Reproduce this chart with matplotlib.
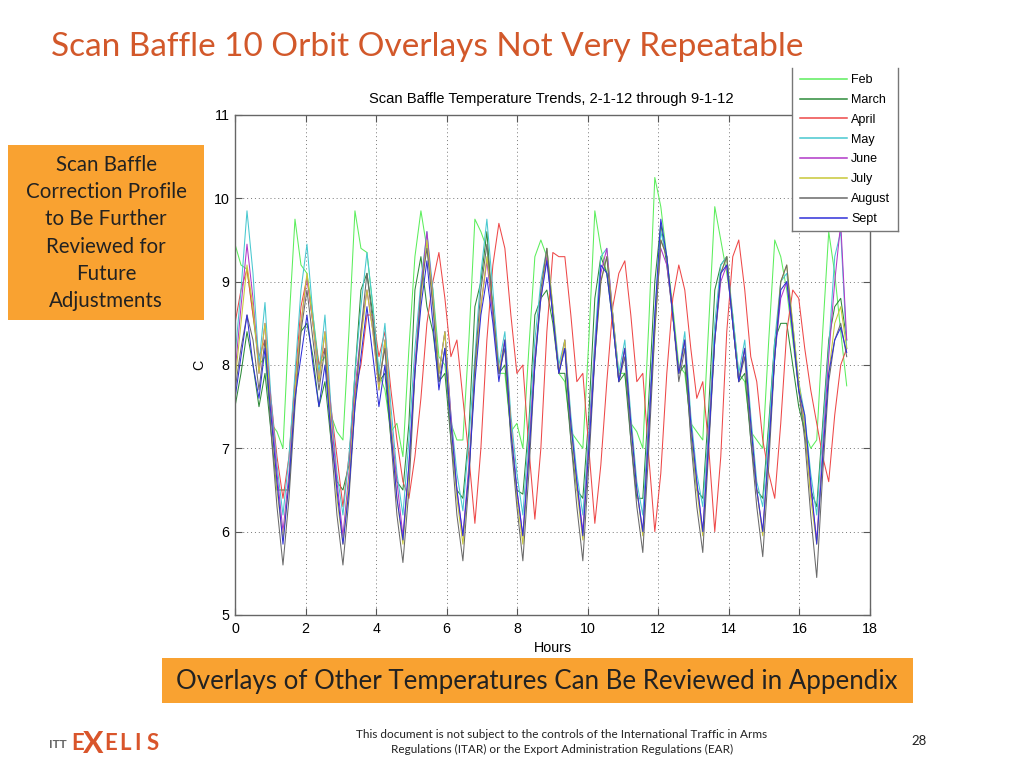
import matplotlib
matplotlib.use('Agg')
import matplotlib.pyplot as plt
from matplotlib.lines import Line2D
from matplotlib.patches import Rectangle

# sample times, hours
hours = [0.00,0.17,0.34,0.51,0.68,0.85,1.02,1.19,1.36,1.53,1.70,1.87,2.04,2.21,2.38,2.55,2.72,2.89,
         3.06,3.23,3.40,3.57,3.74,3.91,4.08,4.25,4.42,4.59,4.76,4.93,5.10,5.27,5.44,5.61,5.78,5.95,
         6.12,6.29,6.46,6.63,6.80,6.97,7.14,7.31,7.48,7.65,7.82,7.99,8.16,8.33,8.50,8.67,8.84,9.01,
         9.18,9.35,9.52,9.69,9.86,10.03,10.20,10.37,10.54,10.71,10.88,11.05,11.22,11.39,11.56,11.73,
         11.90,12.07,12.24,12.41,12.58,12.75,12.92,13.09,13.26,13.43,13.60,13.77,13.94,14.11,14.28,
         14.45,14.62,14.79,14.96,15.13,15.30,15.47,15.64,15.81,15.98,16.15,16.32,16.49,16.66,16.83,
         17.00,17.17,17.34]

feb = [9.45,9.2,9.15,8.6,8.0,8.1,7.3,7.2,
       7.0,8.5,9.75,9.2,9.1,8.6,8.0,8.1,7.4,7.2,
       7.1,8.4,9.85,9.4,9.35,8.7,7.9,7.7,7.2,7.3,
       6.9,8.2,9.3,9.85,9.4,8.9,8.1,8.0,7.3,7.1,
       7.1,8.3,9.75,9.6,9.4,8.7,7.9,7.9,7.2,7.3,
       7.0,8.2,9.3,9.5,9.3,8.6,7.9,7.8,7.2,7.1,
       7.0,8.3,9.85,9.4,9.1,8.6,7.9,7.9,7.3,7.2,
       7.0,8.5,10.25,9.9,9.3,8.7,8.0,7.9,7.3,7.2,
       7.1,8.5,9.9,9.5,9.1,8.6,7.9,7.8,7.2,7.1,
       7.0,8.3,9.5,9.3,8.9,8.3,7.7,7.2,7.0,
       7.1,8.4,9.6,9.1,8.4,7.75]
march = [7.5,7.9,8.4,8.0,7.5,7.9,7.2,6.5,
         6.5,6.5,7.7,8.4,8.5,8.1,7.5,7.8,7.1,6.6,
         6.5,6.8,7.9,8.9,9.1,8.6,7.8,7.9,7.1,6.6,
         6.5,7.3,8.9,9.3,8.7,8.4,7.8,7.9,7.1,6.5,
         6.4,7.2,8.7,9.0,9.6,8.6,7.9,8.0,7.2,6.5,
         6.45,7.3,8.6,8.8,8.9,8.5,7.9,7.9,7.1,6.5,
         6.4,7.4,8.8,9.3,9.1,8.5,7.8,7.9,7.1,6.4,
         6.4,7.6,9.0,9.7,9.2,8.6,7.9,8.0,7.2,6.5,
         6.4,7.5,8.9,9.2,9.3,8.5,7.8,7.9,7.1,6.5,
         6.4,7.3,8.3,8.5,8.5,8.0,7.5,7.2,6.5,
         6.3,7.3,8.3,8.7,8.8,8.3]
april = [8.5,8.9,9.15,8.6,8.1,8.3,7.6,6.9,
         6.4,6.9,7.8,8.7,9.05,8.5,8.0,8.2,7.5,6.9,
         6.3,6.9,7.7,8.0,8.6,8.6,8.1,8.4,7.7,7.1,
         6.6,6.4,6.9,7.6,8.5,9.0,9.35,8.8,8.1,8.3,
         7.6,6.9,6.1,7.0,8.3,9.2,9.7,9.4,8.6,7.9,
         8.0,7.0,6.15,7.0,8.4,9.35,9.3,9.3,8.6,7.8,
         7.9,7.0,6.1,6.8,7.8,8.7,9.1,9.25,8.6,7.8,
         7.9,6.9,6.0,6.7,7.9,8.8,9.2,8.9,8.2,7.6,
         7.8,7.0,6.0,6.9,8.4,9.3,9.5,8.9,8.1,7.8,
         7.1,6.7,6.4,7.3,8.4,8.9,8.8,8.2,7.7,
         7.3,6.9,6.6,7.4,8.0,8.2]
may = [8.1,8.9,9.85,9.1,8.0,8.75,7.6,6.8,
       6.2,6.9,7.9,8.9,9.45,8.6,7.9,8.6,7.5,6.7,
       6.2,6.9,7.9,8.7,9.35,8.7,7.9,8.5,7.5,6.7,
       6.2,7.1,8.2,9.0,9.6,8.9,7.9,8.4,7.4,6.7,
       6.25,7.1,8.1,9.1,9.75,8.9,8.0,8.4,7.4,6.7,
       6.2,7.2,8.3,9.0,9.4,8.7,8.0,8.3,7.4,6.7,
       6.2,7.2,8.3,9.3,9.4,8.6,7.9,8.3,7.4,6.6,
       6.2,7.4,8.6,9.6,9.3,8.6,7.9,8.4,7.4,6.7,
       6.3,7.3,8.5,9.2,9.3,8.6,7.9,8.3,7.4,6.6,
       6.3,7.2,8.3,9.0,9.1,8.5,7.8,7.4,6.7,
       6.2,7.2,8.2,9.3,9.6,8.2]
june = [7.9,8.7,9.45,8.8,7.9,8.5,7.5,6.7,
        6.0,6.7,7.7,8.5,9.05,8.5,7.8,8.4,7.4,6.6,
        5.95,6.7,7.7,8.4,8.9,8.4,7.7,8.3,7.3,6.6,
        5.95,6.8,8.0,8.9,9.6,8.8,7.9,8.4,7.4,6.5,
        5.95,6.8,7.9,8.7,9.25,8.6,7.9,8.3,7.3,6.5,
        5.95,7.0,8.1,8.8,9.3,8.6,7.9,8.3,7.3,6.6,
        6.0,7.1,8.2,9.1,9.4,8.6,7.8,8.2,7.3,6.5,
        6.0,7.3,8.5,9.4,9.2,8.6,7.9,8.3,7.3,6.6,
        6.0,7.2,8.3,9.0,9.2,8.5,7.8,8.2,7.3,6.5,
        6.0,7.0,8.1,8.8,9.0,8.4,7.7,7.3,6.5,
        5.9,7.0,8.1,9.0,9.7,8.3]
july = [7.8,8.5,9.2,8.7,7.9,8.5,7.4,6.5,
        5.9,6.6,7.7,8.5,9.1,8.5,7.8,8.4,7.3,6.4,
        5.85,6.6,7.6,8.3,8.9,8.4,7.7,8.3,7.3,6.4,
        5.85,6.7,7.9,8.8,9.5,8.8,7.9,8.4,7.3,6.4,
        5.85,6.7,7.9,8.7,9.3,8.7,7.9,8.3,7.3,6.4,
        5.85,6.9,8.0,8.8,9.4,8.7,7.9,8.3,7.3,6.5,
        5.9,7.0,8.1,9.0,9.3,8.6,7.8,8.2,7.3,6.5,
        5.95,7.2,8.4,9.5,9.3,8.6,7.9,8.3,7.3,6.5,
        5.95,7.1,8.3,9.1,9.3,8.5,7.8,8.2,7.3,6.5,
        5.95,7.0,8.1,9.0,9.2,8.5,7.8,7.3,6.4,
        5.85,6.9,7.9,8.5,8.7,8.2]
august = [7.7,8.2,8.6,8.3,7.7,8.3,7.2,6.3,
          5.6,6.4,7.5,8.4,8.9,8.3,7.7,8.2,7.1,6.2,
          5.6,6.4,7.5,8.4,9.1,8.5,7.8,8.2,7.1,6.2,
          5.63,6.5,7.9,8.9,9.4,8.7,7.8,8.2,7.1,6.2,
          5.65,6.6,8.0,8.9,9.45,8.7,7.9,8.2,7.1,6.3,
          5.65,6.7,8.0,8.9,9.4,8.6,7.9,8.2,7.1,6.3,
          5.65,6.8,8.1,9.0,9.3,8.5,7.8,8.1,7.1,6.3,
          5.75,7.0,8.4,9.5,9.3,8.6,7.8,8.2,7.1,6.3,
          5.75,7.0,8.3,9.1,9.3,8.5,7.8,8.1,7.1,6.3,
          5.7,6.8,8.1,9.0,9.2,8.4,7.7,7.1,6.2,
          5.45,6.7,7.8,8.3,8.5,8.1]
sept = [7.6,8.1,8.6,8.0,7.6,8.2,7.4,6.6,
        5.85,6.6,7.6,8.1,8.6,8.0,7.5,8.0,7.2,6.5,
        5.85,6.5,7.5,8.1,8.7,8.1,7.5,8.0,7.2,6.4,
        5.9,6.8,7.9,8.7,9.25,8.5,7.7,8.2,7.3,6.5,
        5.95,6.7,7.8,8.6,9.05,8.5,7.8,8.3,7.2,6.5,
        5.95,6.9,8.0,8.8,9.25,8.6,7.9,8.2,7.3,6.6,
        5.95,7.0,8.1,9.2,9.1,8.5,7.8,8.2,7.3,6.5,
        6.0,7.2,8.6,9.75,9.3,8.6,7.9,8.3,7.3,6.6,
        6.0,7.1,8.3,9.1,9.2,8.5,7.8,8.2,7.3,6.5,
        6.0,7.0,8.1,8.9,9.0,8.4,7.7,7.4,6.6,
        5.85,6.9,7.9,8.3,8.45,8.15]

series_names = ['Feb','March','April','May','June','July','August','Sept']
series_vals = [feb,march,april,may,june,july,august,sept]
series_cols = ['#5cee5c','#2e8b3a','#ee4848','#48c8d0','#b038c8','#c8c838','#6a6a6a','#3030d8']

logo_letters = ['E','X','E','L','I','S']

W, H = 1024, 768
TXT = ['Lato','DejaVu Sans']
ORANGE = '#d2582a'

plt.rcParams['font.family'] = ['Liberation Sans','DejaVu Sans']
fig = plt.figure(figsize=(W/100, H/100), dpi=100)

def fx(x): return x/W
def fy(y): return 1 - y/H

ax = fig.add_axes([fx(235), fy(615), fx(870-235), (615-115)/H])
for name, vals, col in zip(series_names, series_vals, series_cols):
    ax.plot(hours, vals, color=col, lw=0.75, label=name)

ax.set_xlim(0, 18)
ax.set_ylim(5, 11)
ax.set_xticks(range(0, 19, 2))
ax.set_yticks(range(5, 12))
ax.grid(True, color='#777777', ls=(0, (1, 3)), lw=0.7)
ax.tick_params(direction='in', length=5, width=0.8, color='#555555', labelsize=10.3, pad=5,
               top=True, right=True)
ax.tick_params(axis='y', pad=4)
for s in ax.spines.values():
    s.set_color('#666666')
    s.set_linewidth(1.0)
ax.set_xlabel('Hours', fontsize=10.3, labelpad=4)
ax.set_ylabel('C', fontsize=10.3, labelpad=5)
fig.text(fx(551), fy(99), 'Scan Baffle Temperature Trends, 2-1-12 through 9-1-12', fontsize=10.6,
         ha='center', va='center')

# legend box runs off the top of the slide image
ax.add_patch(Rectangle((fx(792), fy(231)), 106/W, (231-68)/H, transform=fig.transFigure,
                       fc='white', ec='none', zorder=4, clip_on=False))
for xs, ys in [([792, 792], [68, 231]), ([792, 898], [231, 231]), ([898, 898], [68, 231])]:
    ax.add_line(Line2D([fx(v) for v in xs], [fy(v) for v in ys], transform=fig.transFigure,
                       color='#777777', lw=1.0, zorder=4.5, clip_on=False))
leg = ax.legend(loc='upper left', bbox_to_anchor=(fx(800), fy(74)), bbox_transform=fig.transFigure,
                frameon=False, fontsize=9, handlelength=3.75, handletextpad=0.35,
                labelspacing=0.63, borderpad=0, borderaxespad=0)
for ln in leg.get_lines():
    ln.set_linewidth(1.1)

# slide furniture
fig.text(fx(51), fy(47), 'Scan Baffle 10 Orbit Overlays Not Very Repeatable', color=ORANGE,
         fontsize=24, family=TXT, ha='left', va='center')
fig.add_artist(Rectangle((fx(8), fy(320)), 196/W, 175/H, transform=fig.transFigure,
                         fc='#f9a231', ec='none'))
fig.text(fx(106), fy(233), 'Scan Baffle\nCorrection Profile\nto Be Further\nReviewed for\nFuture\nAdjustments',
         fontsize=14.8, family=TXT, ha='center', va='center', linespacing=1.46, color='#222222')
fig.add_artist(Rectangle((fx(162), fy(703)), 751/W, 45/H, transform=fig.transFigure,
                         fc='#f9a231', ec='none'))
fig.text(fx(537), fy(682), 'Overlays of Other Temperatures Can Be Reviewed in Appendix',
         fontsize=18.6, family=TXT, ha='center', va='center', color='#222222')
fig.text(fx(562), fy(742), 'This document is not subject to the controls of the International Traffic in Arms\n'
         'Regulations (ITAR) or the Export Administration Regulations (EAR)',
         fontsize=8.5, family=TXT, ha='center', va='center', linespacing=1.4, color='#222222')
fig.text(fx(919), fy(741), '28', fontsize=9.5, family=TXT, ha='center', va='center', color='#222222')
fig.text(fx(49), fy(744), 'ITT', fontsize=8.5, family=TXT, ha='left', va='center', color='#666666', weight='bold')
for ch, px, size in zip(logo_letters, [71, 83, 104, 119, 134, 147], [16, 22, 16, 16, 16, 16]):
    fig.text(fx(px), fy(744), ch, fontsize=size, family=TXT, ha='left', va='center',
             color='#d9552b', weight='bold')

fig.savefig('out.png', dpi=100)
